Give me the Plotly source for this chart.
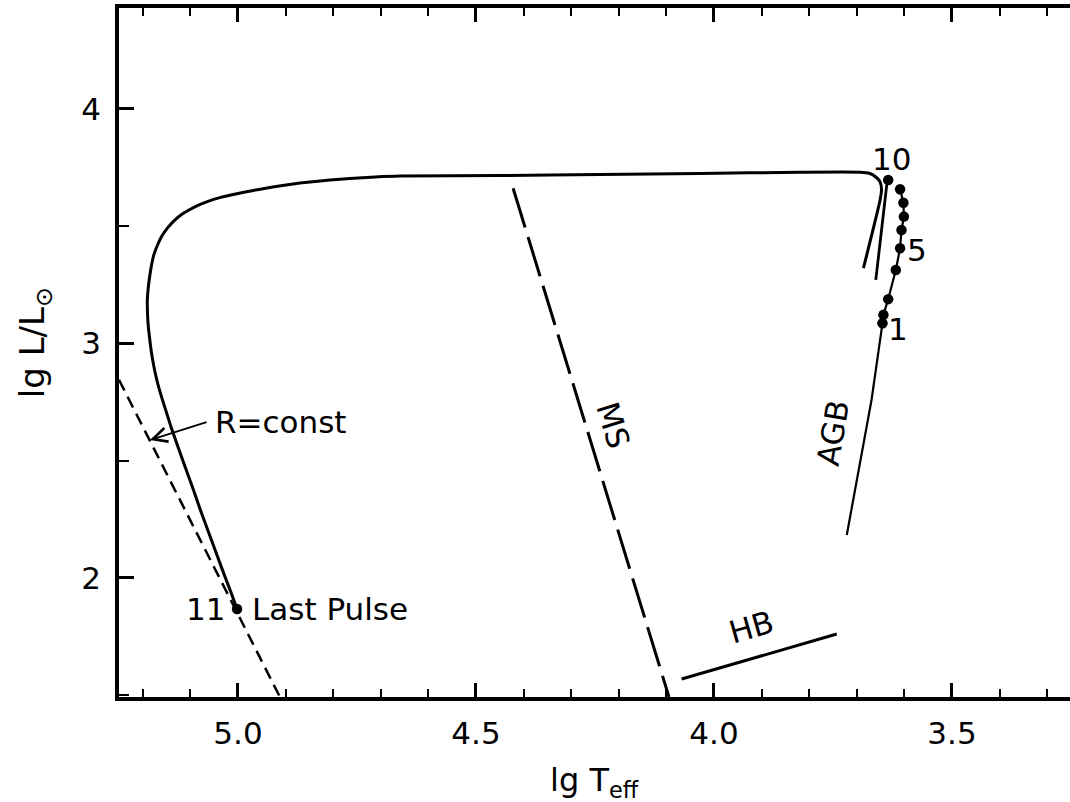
import plotly.graph_objects as go

# Post-AGB evolutionary track in the HR diagram (lg Teff vs lg L/Lsun)

# main post-AGB track, from the AGB tip across to the last pulse
track_lgT = [3.686, 3.666, 3.651, 3.648, 3.651, 3.660, 3.674, 3.693, 3.819, 4.029,
             4.240, 4.450, 4.660, 4.712, 4.765, 4.807, 4.838, 4.870, 4.899, 4.927,
             4.956, 4.985, 5.015, 5.040, 5.063, 5.084, 5.103, 5.120, 5.135, 5.148,
             5.160, 5.169, 5.177, 5.182, 5.186, 5.189, 5.1905, 5.1903, 5.189, 5.186,
             5.182, 5.1765, 5.169, 5.160, 5.150, 5.140, 5.126, 5.111, 5.095, 5.079,
             5.062, 5.045, 5.028, 5.015, 5.002]
track_lgL = [3.321, 3.484, 3.612, 3.655, 3.689, 3.710, 3.726, 3.730, 3.730, 3.725,
             3.721, 3.716, 3.714, 3.710, 3.704, 3.697, 3.691, 3.684, 3.676, 3.667,
             3.657, 3.646, 3.633, 3.621, 3.606, 3.589, 3.569, 3.548, 3.522, 3.493,
             3.458, 3.420, 3.377, 3.331, 3.279, 3.228, 3.186, 3.143, 3.087, 3.028,
             2.964, 2.900, 2.832, 2.768, 2.704, 2.640, 2.559, 2.473, 2.384, 2.290,
             2.196, 2.102, 2.009, 1.940, 1.868]

# luminosity dip following pulse 10
dip_lgT = [3.637, 3.648, 3.660]
dip_lgL = [3.676, 3.473, 3.271]

# AGB: lower branch, then through thermal pulses 1-9
agb_lgT = [3.721, 3.669, 3.646, 3.644, 3.634, 3.618, 3.609, 3.606, 3.601, 3.602, 3.609]
agb_lgL = [2.183, 2.759, 3.086, 3.122, 3.189, 3.313, 3.406, 3.484, 3.541, 3.600, 3.658]

# thermal pulses 1..10 on the AGB, pulse 11 = last pulse
pulse_lgT = [3.646, 3.644, 3.634, 3.618, 3.609, 3.606, 3.601, 3.602, 3.609, 3.634]
pulse_lgL = [3.086, 3.122, 3.189, 3.313, 3.406, 3.484, 3.541, 3.600, 3.658, 3.697]
last_lgT = [5.002]
last_lgL = [1.868]

# line of constant radius
rconst_lgT = [5.25, 4.91]
rconst_lgL = [2.845, 1.485]

# main sequence
ms_lgT = [4.422, 4.0945]
ms_lgL = [3.662, 1.4925]

# horizontal branch
hb_lgT = [4.068, 3.742]
hb_lgL = [1.569, 1.761]

FONT = "DejaVu Sans"
BLACK = "black"

fig = go.Figure()

fig.add_trace(go.Scatter(x=rconst_lgT, y=rconst_lgL, mode="lines",
                         line=dict(color=BLACK, width=2.5, dash="12px,7px")))
fig.add_trace(go.Scatter(x=ms_lgT, y=ms_lgL, mode="lines",
                         line=dict(color=BLACK, width=3, dash="41px,10px")))
fig.add_trace(go.Scatter(x=hb_lgT, y=hb_lgL, mode="lines",
                         line=dict(color=BLACK, width=3)))
fig.add_trace(go.Scatter(x=agb_lgT, y=agb_lgL, mode="lines",
                         line=dict(color=BLACK, width=2.2)))
fig.add_trace(go.Scatter(x=dip_lgT, y=dip_lgL, mode="lines",
                         line=dict(color=BLACK, width=2.8)))
fig.add_trace(go.Scatter(x=track_lgT, y=track_lgL, mode="lines",
                         line=dict(color=BLACK, width=3, shape="spline", smoothing=0.6)))
fig.add_trace(go.Scatter(x=pulse_lgT + last_lgT, y=pulse_lgL + last_lgL, mode="markers",
                         marker=dict(color=BLACK, size=10.5)))

ann_font = dict(family=FONT, size=31, color=BLACK)

labels = [
    dict(x=5.0525, y=2.665, text="R=const", xanchor="left", textangle=0),
    dict(x=5.023, y=1.866, text="11", xanchor="right", textangle=0),
    dict(x=4.975, y=1.866, text="Last Pulse", xanchor="left", textangle=0),
    dict(x=3.628, y=3.785, text="10", xanchor="center", textangle=0),
    dict(x=3.5735, y=3.397, text="5", xanchor="center", textangle=0),
    dict(x=3.6135, y=3.060, text="1", xanchor="center", textangle=0),
    dict(x=3.750, y=2.618, text="AGB", xanchor="center", textangle=-80.6),
    dict(x=4.212, y=2.652, text="MS", xanchor="center", textangle=73),
    dict(x=3.922, y=1.791, text="HB", xanchor="center", textangle=-16),
]
for a in labels:
    fig.add_annotation(x=a["x"], y=a["y"], xref="x", yref="y", text=a["text"],
                       showarrow=False, xanchor=a["xanchor"], yanchor="middle",
                       textangle=a["textangle"], font=ann_font)

# arrow pointing at the R=const line
fig.add_annotation(x=5.185, y=2.588, ax=5.063, ay=2.6665, xref="x", yref="y",
                   axref="x", ayref="y", text="", showarrow=True,
                   arrowhead=5, arrowsize=1.4, arrowwidth=2, arrowcolor=BLACK)

# axis titles
fig.add_annotation(x=0.5, y=-0.123, xref="paper", yref="paper",
                   xanchor="center", yanchor="middle",
                   text="lg T<sub>eff</sub>", showarrow=False,
                   font=dict(family=FONT, size=32, color=BLACK))
fig.add_annotation(x=-0.088, y=0.514, xref="paper", yref="paper",
                   xanchor="center", yanchor="middle",
                   text="lg L/L<sub>⊙</sub>", showarrow=False, textangle=-90,
                   font=dict(family=FONT, size=34, color=BLACK))

fig.update_xaxes(range=[5.25, 3.252], tick0=3.5, dtick=0.5, tickformat=".1f",
                 ticks="inside", ticklen=14, tickwidth=2.5, tickcolor=BLACK,
                 minor=dict(dtick=0.1, ticks="inside", ticklen=8, tickwidth=2, tickcolor=BLACK),
                 showline=True, linewidth=3.5, linecolor=BLACK, mirror="ticks",
                 showgrid=False, zeroline=False,
                 tickfont=dict(family=FONT, size=31, color=BLACK), ticklabelstandoff=6)
fig.update_yaxes(range=[1.4925, 4.4306], tick0=2, dtick=1,
                 ticks="inside", ticklen=15, tickwidth=2.5, tickcolor=BLACK,
                 minor=dict(dtick=0.5, ticks="inside", ticklen=10, tickwidth=2, tickcolor=BLACK),
                 showline=True, linewidth=3.5, linecolor=BLACK, mirror=False,
                 showgrid=False, zeroline=False,
                 tickfont=dict(family=FONT, size=31, color=BLACK), ticklabelstandoff=8)

fig.update_layout(width=1070, height=802, showlegend=False,
                  margin=dict(l=119, r=0, t=8, b=105),
                  paper_bgcolor="white", plot_bgcolor="white",
                  font=dict(family=FONT, color=BLACK))

fig.write_html("out.html")
